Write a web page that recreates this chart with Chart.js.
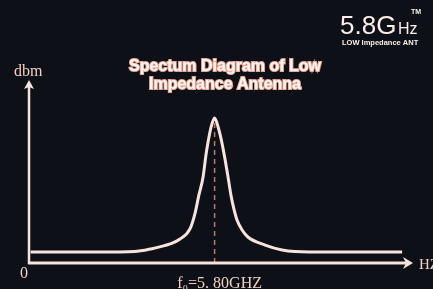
<!DOCTYPE html>
<html>
<head>
<meta charset="utf-8">
<script src="https://cdn.jsdelivr.net/npm/chart.js@4"></script>
<style>
    html, body { margin: 0; padding: 0; background: #0d1117; }
    #wrap { width: 433px; height: 289px; }
</style>
</head>
<body>
<div id="wrap"><canvas id="spectrum" width="433" height="289"></canvas></div>
<script>
// frequency (GHz) and relative level
const freqGHz = [0.05, 2.2, 3.3, 3.78, 4.41, 4.72, 5.03, 5.19, 5.31, 5.44, 5.53, 5.59, 5.69, 5.8,
    5.91, 6.03, 6.13, 6.22, 6.31, 6.41, 6.5, 6.66, 6.84, 7.38, 7.91, 8.31, 9.4, 11.66];
const levelDb = [6, 6, 6.3, 7.6, 10.4, 13.1, 18.6, 27.3, 37.2, 47, 59, 65.6, 74.3, 79.2,
    74.3, 65.6, 56.3, 47, 37.2, 29, 23.5, 18, 14.2, 9.8, 7.1, 6.3, 6, 6];
const centerFreq = [5.8, 5.8];
const centerLevel = [0, 79.2];
const titleLines = ['Spectum Diagram of Low', 'Impedance Antenna'];

const ink = '#f8e4dc';

const toPoints = (xs, ys) => xs.map((x, i) => ({ x: x, y: ys[i] }));

const decorPlugin = {
    id: 'decor',
    afterDatasetsDraw(chart) {
        const ctx = chart.ctx;
        const xs = chart.scales.x, ys = chart.scales.y;
        const x0 = xs.getPixelForValue(0), y0 = ys.getPixelForValue(0);
        const xEnd = xs.getPixelForValue(12), yTop = ys.getPixelForValue(100);
        ctx.save();
        ctx.strokeStyle = ink;
        ctx.fillStyle = ink;
        // y axis
        ctx.lineWidth = 2.5;
        ctx.beginPath();
        ctx.moveTo(x0, y0 + 1);
        ctx.lineTo(x0, yTop + 6);
        ctx.stroke();
        ctx.beginPath();
        ctx.moveTo(x0, yTop);
        ctx.lineTo(x0 + 5, yTop + 9);
        ctx.lineTo(x0, yTop + 7);
        ctx.lineTo(x0 - 5, yTop + 9);
        ctx.closePath();
        ctx.fill();
        // x axis
        ctx.lineWidth = 3;
        ctx.beginPath();
        ctx.moveTo(x0 - 1, y0);
        ctx.lineTo(xEnd - 6, y0);
        ctx.stroke();
        ctx.beginPath();
        ctx.moveTo(xEnd, y0);
        ctx.lineTo(xEnd - 10, y0 - 6);
        ctx.lineTo(xEnd - 7, y0);
        ctx.lineTo(xEnd - 10, y0 + 6);
        ctx.closePath();
        ctx.fill();

        // axis labels
        ctx.fillStyle = '#f2cfc2';
        ctx.textBaseline = 'alphabetic';
        ctx.font = '16px "Liberation Serif", serif';
        ctx.textAlign = 'left';
        ctx.fillText('dbm', 14, 76);
        ctx.fillText('0', 20, 278);
        ctx.font = '15px "Liberation Serif", serif';
        ctx.fillText('HZ', 419, 269);
        ctx.textAlign = 'center';
        ctx.font = '16px "Liberation Serif", serif';
        ctx.fillText('f\u2080=5. 80GHZ', xs.getPixelForValue(5.8) + 5, 288);

        // title
        ctx.font = 'bold 16px "Liberation Sans", Arial, sans-serif';
        ctx.lineWidth = 2;
        ctx.strokeStyle = '#e9a897';
        ctx.fillStyle = '#fff6f2';
        titleLines.forEach((t, i) => {
            ctx.strokeText(t, 225, 71 + i * 18);
            ctx.fillText(t, 225, 71 + i * 18);
        });

        // logo
        ctx.fillStyle = '#fbeee8';
        ctx.textAlign = 'left';
        ctx.font = '26px "Liberation Sans", Arial, sans-serif';
        ctx.fillText('5.8G', 340, 34);
        ctx.font = '16px "Liberation Sans", Arial, sans-serif';
        ctx.fillText('Hz', 398, 34);
        ctx.font = 'bold 7px "Liberation Sans", Arial, sans-serif';
        ctx.fillText('TM', 411, 14);
        ctx.font = 'bold 7.5px "Liberation Sans Narrow", "Liberation Sans", Arial, sans-serif';
        ctx.fillText('LOW Impedance ANT', 342, 45);
        ctx.restore();
    }
};

new Chart(document.getElementById('spectrum'), {
    type: 'line',
    data: {
        datasets: [
            {
                data: toPoints(freqGHz, levelDb),
                borderColor: ink,
                borderWidth: 3,
                pointRadius: 0,
                cubicInterpolationMode: 'monotone',
                fill: false
            },
            {
                data: toPoints(centerFreq, centerLevel),
                borderColor: '#b9786a',
                borderWidth: 1.5,
                borderDash: [5, 4],
                pointRadius: 0,
                fill: false
            }
        ]
    },
    options: {
        responsive: false,
        animation: false,
        layout: { padding: { left: 29, right: 20, top: 80, bottom: 26 } },
        plugins: { legend: { display: false }, tooltip: { enabled: false } },
        scales: {
            x: { type: 'linear', min: 0, max: 12, display: false },
            y: { min: 0, max: 100, display: false }
        }
    },
    plugins: [decorPlugin]
});
</script>
</body>
</html>
